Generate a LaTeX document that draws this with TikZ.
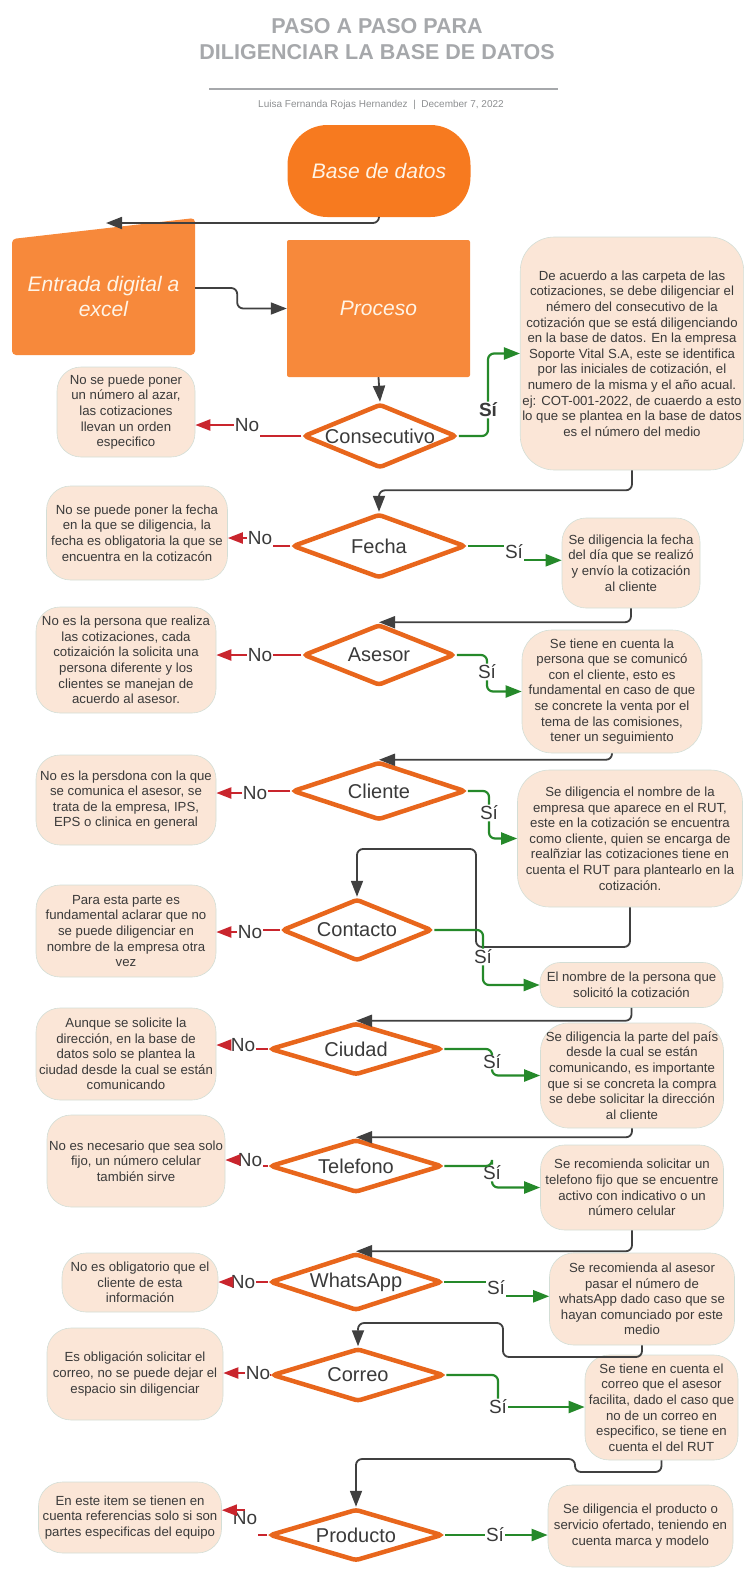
\documentclass[tikz,border=0pt]{standalone}
\usepackage{fontspec}
\setmainfont{Liberation Sans}
\usetikzlibrary{shapes.geometric, arrows.meta}

\definecolor{baseorange}{HTML}{F77A1F}
\definecolor{blockorange}{HTML}{F7893B}
\definecolor{diamondorange}{HTML}{E8661C}
\definecolor{notefill}{HTML}{FBE6D7}
\definecolor{noteedge}{HTML}{D3DED6}
\definecolor{textgray}{HTML}{3A3A3A}
\definecolor{titlegray}{HTML}{A6A8AB}
\definecolor{flowgray}{HTML}{404040}
\definecolor{nored}{HTML}{C9252D}
\definecolor{sigreen}{HTML}{25892A}
\definecolor{blocktext}{HTML}{FFF4E6}

\begin{document}
\begin{tikzpicture}[x=1pt, y=-1pt,
    block/.style={rectangle, fill=blockorange, text=blocktext, align=center, rounded corners=2pt,
      font=\fontsize{21pt}{25pt}\selectfont\itshape},
    decision/.style={diamond, aspect=2.4, draw=diamondorange, line width=4.5pt, fill=white,
      rounded corners=3pt, inner sep=0pt, text=textgray, font=\fontsize{20pt}{24pt}\selectfont},
    note/.style={rectangle, rounded corners=24pt, fill=notefill, draw=noteedge, line width=0.6pt,
      align=center, inner sep=2pt, text=textgray, font=\fontsize{13.2pt}{15.6pt}\selectfont},
    tag/.style={fill=white, inner sep=1pt, text=textgray, font=\fontsize{19pt}{22pt}\selectfont},
    flow/.style={draw=flowgray, line width=1.8pt, rounded corners=6pt, -{Triangle[length=16pt, width=12pt]}},
    noline/.style={draw=nored, line width=2.2pt},
    noarrow/.style={noline, -{Triangle[length=15pt, width=11pt]}},
    siline/.style={draw=sigreen, line width=2.2pt, rounded corners=6pt},
    siarrow/.style={siline, -{Triangle[length=16pt, width=12pt]}}
  ]
  \useasboundingbox (0,0) rectangle (744,1569);

  \node[align=center, text=titlegray, font=\fontsize{21.5pt}{26pt}\selectfont\bfseries] (titulo) at (377,39)
    {PASO A PASO PARA\\DILIGENCIAR LA BASE DE DATOS};
  \draw[titlegray, line width=2.5pt] (209,89) -- (558,89);
  \node[text=titlegray!85!black, font=\fontsize{10pt}{12pt}\selectfont] (autor) at (381,105)
    {Luisa Fernanda Rojas Hernandez \ | \ December 7, 2022};

  \node[block, fill=baseorange, minimum width=183pt, minimum height=92pt, rounded corners=40pt] (base) at (379,171) {Base de datos};
  \fill[blockorange, rounded corners=4pt] (12,239) -- (195,218) -- (195,355) -- (12,355) -- cycle;
  \node[block, fill=none, minimum width=183pt] (entrada) at (103.5,296) {Entrada digital a\\excel};
  \node[block, minimum width=183pt, minimum height=137pt] (proceso) at (378.5,308.5) {Proceso};
  \coordinate (entradaTope) at (106,223);

  \node[decision, minimum width=153pt, minimum height=64pt] (consec) at (380,436) {Consecutivo};
  \node[decision, minimum width=173pt, minimum height=64pt] (fecha) at (379,546) {Fecha};
  \node[decision, minimum width=151pt, minimum height=61pt] (asesor) at (379,655) {Asesor};
  \node[decision, minimum width=173pt, minimum height=58pt] (cliente) at (379,791) {Cliente};
  \node[decision, minimum width=150pt, minimum height=62pt] (contacto) at (357,930) {Contacto};
  \node[decision, minimum width=172pt, minimum height=52pt] (ciudad) at (356,1049) {Ciudad};
  \node[decision, minimum width=172pt, minimum height=53pt] (telefono) at (356,1166) {Telefono};
  \node[decision, minimum width=172pt, minimum height=55pt] (whatsapp) at (356,1282) {WhatsApp};
  \node[decision, minimum width=172pt, minimum height=53pt] (correo) at (358,1375) {Correo};
  \node[decision, minimum width=173pt, minimum height=52pt] (producto) at (356,1535) {Producto};

  \node[note, minimum width=138pt, minimum height=90pt] (consecIzq) at (126,412)
    {No se puede poner\\un número al azar,\\las cotizaciones\\llevan un orden\\especifico};
  \node[note, minimum width=222pt, minimum height=233pt, rounded corners=34pt] (consecDer) at (632,353.5)
    {De acuerdo a las carpeta de las\\cotizaciones, se debe diligenciar el\\némero del consecutivo de la\\cotización que se está diligenciando\\en la base de datos. En la empresa\\Soporte Vital S.A, este se identifica\\por las iniciales de cotización, el\\numero de la misma y el año acual.\\ej: COT-001-2022, de cuaerdo a esto\\lo que se plantea en la base de datos\\es el número del medio};
  \node[note, minimum width=181pt, minimum height=94pt] (fechaIzq) at (137,533)
    {No se puede poner la fecha\\en la que se diligencia, la\\fecha es obligatoria la que se\\encuentra en la cotizacón};
  \node[note, minimum width=138pt, minimum height=90pt] (fechaDer) at (631,563)
    {Se diligencia la fecha\\del día que se realizó\\y envío la cotización\\al cliente};
  \node[note, minimum width=180pt, minimum height=106pt] (asesorIzq) at (126,660)
    {No es la persona que realiza\\las cotizaciones, cada\\cotizaición la solicita una\\persona diferente y los\\clientes se manejan de\\acuerdo al asesor.};
  \node[note, minimum width=180pt, minimum height=123pt, rounded corners=30pt] (asesorDer) at (612,691.5)
    {Se tiene en cuenta la\\persona que se comunicó\\con el cliente, esto es\\fundamental en caso de que\\se concrete la venta por el\\tema de las comisiones,\\tener un seguimiento};
  \node[note, minimum width=180pt, minimum height=90pt] (clienteIzq) at (126,800)
    {No es la persdona con la que\\se comunica el asesor, se\\trata de la empresa, IPS,\\EPS o clinica en general};
  \node[note, minimum width=225pt, minimum height=137pt, rounded corners=32pt] (clienteDer) at (630,838.5)
    {Se diligencia el nombre de la\\empresa que aparece en el RUT,\\este en la cotización se encuentra\\como cliente, quien se encarga de\\realñziar las cotizaciones tiene en\\cuenta el RUT para plantearlo en la\\cotización.};
  \node[note, minimum width=180pt, minimum height=92pt] (contactoIzq) at (126,931)
    {Para esta parte es\\fundamental aclarar que no\\se puede diligenciar en\\nombre de la empresa otra\\vez};
  \node[note, minimum width=183pt, minimum height=45pt, rounded corners=20pt] (contactoDer) at (631.5,985)
    {El nombre de la persona que\\solicitó la cotización};
  \node[note, minimum width=180pt, minimum height=92pt] (ciudadIzq) at (126,1054)
    {Aunque se solicite la\\dirección, en la base de\\datos solo se plantea la\\ciudad desde la cual se están\\comunicando};
  \node[note, minimum width=183pt, minimum height=105pt, rounded corners=28pt] (ciudadDer) at (632,1075.5)
    {Se diligencia la parte del país\\desde la cual se están\\comunicando, es importante\\que si se concreta la compra\\se debe solicitar la dirección\\al cliente};
  \node[note, minimum width=178pt, minimum height=92pt] (telefonoIzq) at (136,1161)
    {No es necesario que sea solo\\fijo, un número celular\\también sirve};
  \node[note, minimum width=183pt, minimum height=85pt] (telefonoDer) at (632,1187.5)
    {Se recomienda solicitar un\\telefono fijo que se encuentre\\activo con indicativo o un\\número celular};
  \node[note, minimum width=156pt, minimum height=59pt] (whatsappIzq) at (140,1282.5)
    {No es obligatorio que el\\cliente de esta\\información};
  \node[note, minimum width=185pt, minimum height=92pt] (whatsappDer) at (642,1299)
    {Se recomienda al asesor\\pasar el número de\\whatsApp dado caso que se\\hayan comunciado por este\\medio};
  \node[note, minimum width=176pt, minimum height=92pt] (correoIzq) at (135,1374)
    {Es obligación solicitar el\\correo, no se puede dejar el\\espacio sin diligenciar};
  \node[note, minimum width=153pt, minimum height=105pt] (correoDer) at (661.5,1407.5)
    {Se tiene en cuenta el\\correo que el asesor\\facilita, dado el caso que\\no de un correo en\\especifico, se tiene en\\cuenta el del RUT};
  \node[note, minimum width=183pt, minimum height=71pt] (productoIzq) at (130,1517.5)
    {En este item se tienen en\\cuenta referencias solo si son\\partes especificas del equipo};
  \node[note, minimum width=185pt, minimum height=82pt] (productoDer) at (640.5,1526)
    {Se diligencia el producto o\\servicio ofertado, teniendo en\\cuenta marca y modelo};

  \draw[flow] (base.south) |- (entradaTope);
  \draw[flow] ([yshift=8pt]entrada.east) -- ++(42,0) |- (proceso.west);
  \draw[flow] (proceso.south) -- (consec.north);
  \draw[flow] (consecDer.south) -- ++(0,20) -| (fecha.north);
  \draw[flow] (fechaDer.south) |- (asesor.north);
  \draw[flow] (asesorDer.south) |- (cliente.north);
  \coordinate (vueltaA) at (476,947);
  \coordinate (vueltaB) at (476,849);
  \draw[flow] (clienteDer.south) |- (vueltaA) -- (vueltaB) -| (contacto.north);
  \draw[flow] (contactoDer.south) |- (ciudad.north);
  \draw[flow] (ciudadDer.south) |- (telefono.north);
  \draw[flow] (telefonoDer.south) |- (whatsapp.north);
  \coordinate (vueltaC) at (503,1357);
  \coordinate (vueltaD) at (503,1323);
  \draw[flow] (whatsappDer.south) |- (vueltaC) -- (vueltaD) -| (correo.north);
  \coordinate (vueltaE) at (575,1472);
  \coordinate (vueltaF) at (575,1459);
  \draw[flow] (correoDer.south) |- (vueltaE) -- (vueltaF) -| (producto.north);

  \node[tag] (consecNo) at (247,425) {No};
  \node[tag, font=\fontsize{19pt}{22pt}\selectfont\bfseries] (consecSi) at (488,410) {Sí};
  \node[tag] (fechaNo) at (260,538) {No};
  \node[tag] (fechaSi) at (514,552) {Sí};
  \node[tag] (asesorNo) at (260,655) {No};
  \node[tag] (asesorSi) at (487,672) {Sí};
  \node[tag] (clienteNo) at (255,793) {No};
  \node[tag] (clienteSi) at (489,813) {Sí};
  \node[tag] (contactoNo) at (250,932) {No};
  \node[tag] (contactoSi) at (483,957) {Sí};
  \node[tag] (ciudadNo) at (243,1045) {No};
  \node[tag] (ciudadSi) at (492,1062) {Sí};
  \node[tag] (telefonoNo) at (250,1160) {No};
  \node[tag] (telefonoSi) at (492,1173) {Sí};
  \node[tag] (whatsappNo) at (243,1282) {No};
  \node[tag] (whatsappSi) at (496,1288) {Sí};
  \node[tag] (correoNo) at (258,1373) {No};
  \node[tag] (correoSi) at (498,1407) {Sí};
  \node[tag] (productoNo) at (245,1518) {No};
  \node[tag] (productoSi) at (495,1535) {Sí};

  \draw[noline] (consec.west) -- (consec.west -| consecNo.east);
  \draw[noarrow] (consecNo.west) -- (consecNo.west -| consecIzq.east);
  \draw[siline] (consec.east) -| (consecSi.south);
  \draw[siarrow] (consecSi.north) |- (consecDer.west);

  \draw[noline] (fecha.west) -- (fecha.west -| fechaNo.east);
  \draw[noarrow] (fechaNo.west) -- (fechaNo.west -| fechaIzq.east);
  \draw[siline] (fecha.east) -- (fecha.east -| fechaSi.west);
  \draw[siarrow] (fechaSi.south east) -- (fechaSi.south east -| fechaDer.west);

  \draw[noline] (asesor.west) -- (asesor.west -| asesorNo.east);
  \draw[noarrow] (asesorNo.west) -- (asesorNo.west -| asesorIzq.east);
  \draw[siline] (asesor.east) -| (asesorSi.north);
  \draw[siarrow] (asesorSi.south) |- (asesorDer.west);

  \draw[noline] (cliente.west) -- (cliente.west -| clienteNo.east);
  \draw[noarrow] (clienteNo.west) -- (clienteNo.west -| clienteIzq.east);
  \draw[siline] (cliente.east) -| (clienteSi.north);
  \draw[siarrow] (clienteSi.south) |- (clienteDer.west);

  \draw[noline] (contacto.west) -- (contacto.west -| contactoNo.east);
  \draw[noarrow] (contactoNo.west) -- (contactoNo.west -| contactoIzq.east);
  \draw[siline] (contacto.east) -| (contactoSi.north);
  \draw[siarrow] (contactoSi.south) |- (contactoDer.west);

  \draw[noline] (ciudad.west) -- (ciudad.west -| ciudadNo.east);
  \draw[noarrow] (ciudadNo.west) -- (ciudadNo.west -| ciudadIzq.east);
  \draw[siline] (ciudad.east) -| (ciudadSi.north);
  \draw[siarrow] (ciudadSi.south) |- (ciudadDer.west);

  \draw[noline] (telefono.west) -- (telefono.west -| telefonoNo.east);
  \draw[noarrow] (telefonoNo.west) -- (telefonoNo.west -| telefonoIzq.east);
  \draw[siline] (telefono.east) -| (telefonoSi.north);
  \draw[siarrow] (telefonoSi.south) |- (telefonoDer.west);

  \draw[noline] (whatsapp.west) -- (whatsapp.west -| whatsappNo.east);
  \draw[noarrow] (whatsappNo.west) -- (whatsappNo.west -| whatsappIzq.east);
  \draw[siline] (whatsapp.east) -- (whatsapp.east -| whatsappSi.west);
  \draw[siarrow] (whatsappSi.south east) -- (whatsappSi.south east -| whatsappDer.west);

  \draw[noline] (correo.west) -- (correo.west -| correoNo.east);
  \draw[noarrow] (correoNo.west) -- (correoNo.west -| correoIzq.east);
  \draw[siline] (correo.east) -| (correoSi.north);
  \draw[siarrow] (correoSi.east) -- (correoSi.east -| correoDer.west);

  \draw[noline] (producto.west) -- (producto.west -| productoNo.east);
  \draw[noarrow] (productoNo.north) -- (productoNo.north -| productoIzq.east);
  \draw[siline] (producto.east) -- (producto.east -| productoSi.west);
  \draw[siarrow] (productoSi.east) -- (productoSi.east -| productoDer.west);
\end{tikzpicture}
\end{document}
